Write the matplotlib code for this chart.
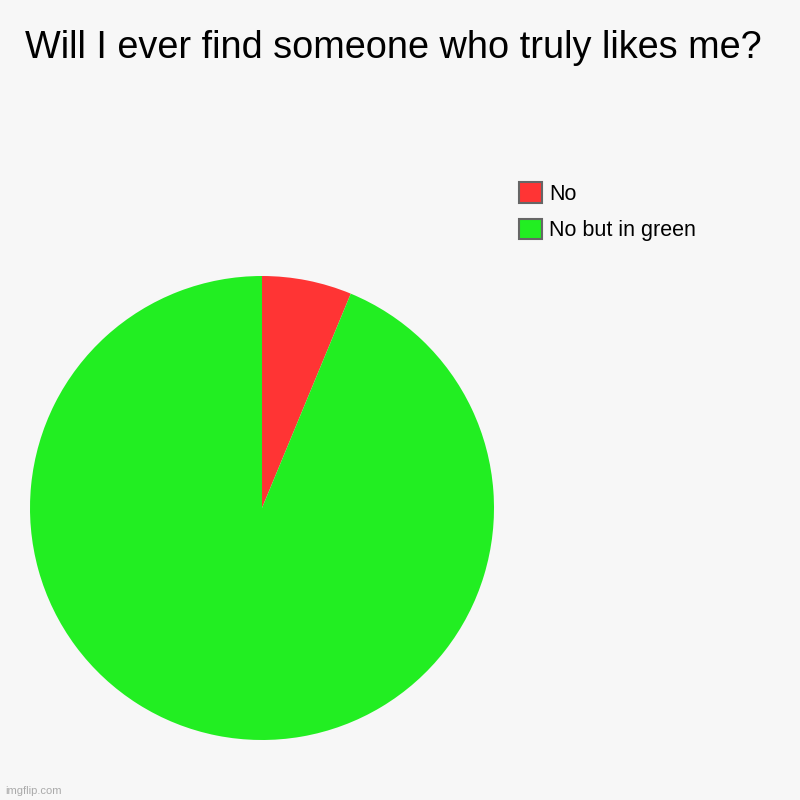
import matplotlib
matplotlib.use("Agg")
import matplotlib.pyplot as plt
from matplotlib.patches import Patch

labels = ["No", "No but in green"]
values = [1, 15]
colors = ["#ff3434", "#22ee22"]
title = "Will I ever find someone who truly likes me?"

plt.rcParams['font.family'] = ['Liberation Sans', 'DejaVu Sans']
bg = "#f7f7f7"
fig = plt.figure(figsize=(8, 8), dpi=100, facecolor=bg)
ax = fig.add_axes([30/800, 60/800, 464/800, 464/800])
ax.set_facecolor(bg)
ax.pie(values, colors=colors, startangle=90, counterclock=False,
       wedgeprops=dict(linewidth=0))
ax.set_aspect('equal')
ax.set_xlim(-1, 1); ax.set_ylim(-1, 1)
ax.axis('off')

fig.text(25/800, 1 - 48/800, title, fontsize=27.3, ha='left', va='center')

handles = [Patch(facecolor=c, edgecolor='#666666', linewidth=1.5) for c in colors]
leg = fig.legend(handles, labels, loc='upper left', bbox_to_anchor=(515/800, 1 - 178/800),
                 frameon=False, fontsize=15.5, handlelength=1.07, handleheight=1.07,
                 handletextpad=0.33, labelspacing=0.65, borderaxespad=0, borderpad=0.2)

fig.text(5/800, 1 - 791/800, "imgflip.com", fontsize=8, color='#aaaaaa', ha='left', va='center')

fig.savefig("out.png", dpi=100, facecolor=bg)
